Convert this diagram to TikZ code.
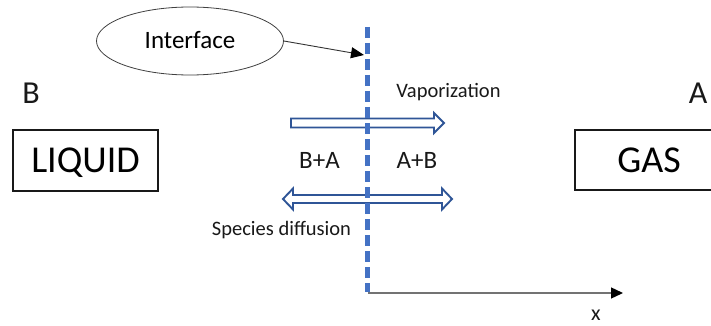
\documentclass[tikz,border=0pt]{standalone}
\usepackage{fontspec}
\setmainfont{Carlito}
\usetikzlibrary{arrows.meta,shapes.geometric}
\definecolor{ifblue}{HTML}{4472C4}
\definecolor{arblue}{HTML}{2F5597}
\begin{document}
\begin{tikzpicture}[x=1pt,y=-1pt,
  lbl/.style={inner sep=0pt,anchor=base,text=black!90},
  boxnode/.style={draw=black!90,line width=1.8pt,inner sep=0pt,text height=24.5pt,text depth=0pt,font=\fontsize{38}{40}\selectfont},
  hollow/.style={draw=arblue,line width=1.9pt,fill=white,line join=miter},
  iface/.style={draw=ifblue,line width=4.5pt,dash pattern=on 11pt off 5pt},
]
\clip (0,0) rectangle (711,326);
\useasboundingbox (0,0) rectangle (711,326);
\fill[white] (0,0) rectangle (711,326);

% ellipse
\node[ellipse,draw=black!75,line width=0.8pt,minimum width=187pt,minimum height=68pt,inner sep=0pt,
  text height=16pt,text depth=0pt,font=\fontsize{25}{28}\selectfont] (ell) at (190,41) {Interface};
\coordinate (tip) at (364,55);
\draw[black!80,line width=0.9pt,-{Triangle[length=13pt,width=11pt,color=black]}] (ell.east) -- (tip);

% letters
\node[lbl,font=\fontsize{32}{34}\selectfont] (B) at (31,103) {B};
\node[lbl,font=\fontsize{32}{34}\selectfont] (A) at (698,103) {A};

% boxes
\node[boxnode,minimum width=145pt,minimum height=61pt] (liq) at (85.5,160.5) {LIQUID};
\node[boxnode,minimum width=148pt,minimum height=60pt] (gas) at (649,160) {GAS};

% labels
\node[lbl,font=\fontsize{20.5}{22}\selectfont] (vap) at (448.5,98) {Vaporization};
\node[lbl,font=\fontsize{20.5}{22}\selectfont] (spd) at (281.5,235) {Species diffusion};
\node[lbl,font=\fontsize{25}{27}\selectfont] (ba) at (319.5,168) {B+A};
\node[lbl,font=\fontsize{25}{27}\selectfont] (ab) at (417,168) {A+B};

% hollow arrows
\draw[hollow] (291,118.5) -- (434,118.5) -- (434,113) -- (444,123) -- (434,133) -- (434,127.5) -- (291,127.5) -- cycle;
\draw[hollow] (283,199) -- (293,188.5) -- (293,195) -- (442,195) -- (442,188.5) -- (452,199) -- (442,209.5) -- (442,203) -- (293,203) -- (293,209.5) -- cycle;

% interface line
\coordinate (itop) at (367.5,27);
\coordinate (ibot) at (367.5,292);
\draw[iface] (itop) -- (ibot);

% x axis
\coordinate (o) at (368,293);
\coordinate (xend) at (623,293);
\draw[black!55,line width=1.3pt,-{Triangle[length=12pt,width=11pt,color=black]}] (o) -- (xend);
\node[lbl,font=\fontsize{22}{24}\selectfont] (xl) at (596,320.5) {x};
\end{tikzpicture}
\end{document}
